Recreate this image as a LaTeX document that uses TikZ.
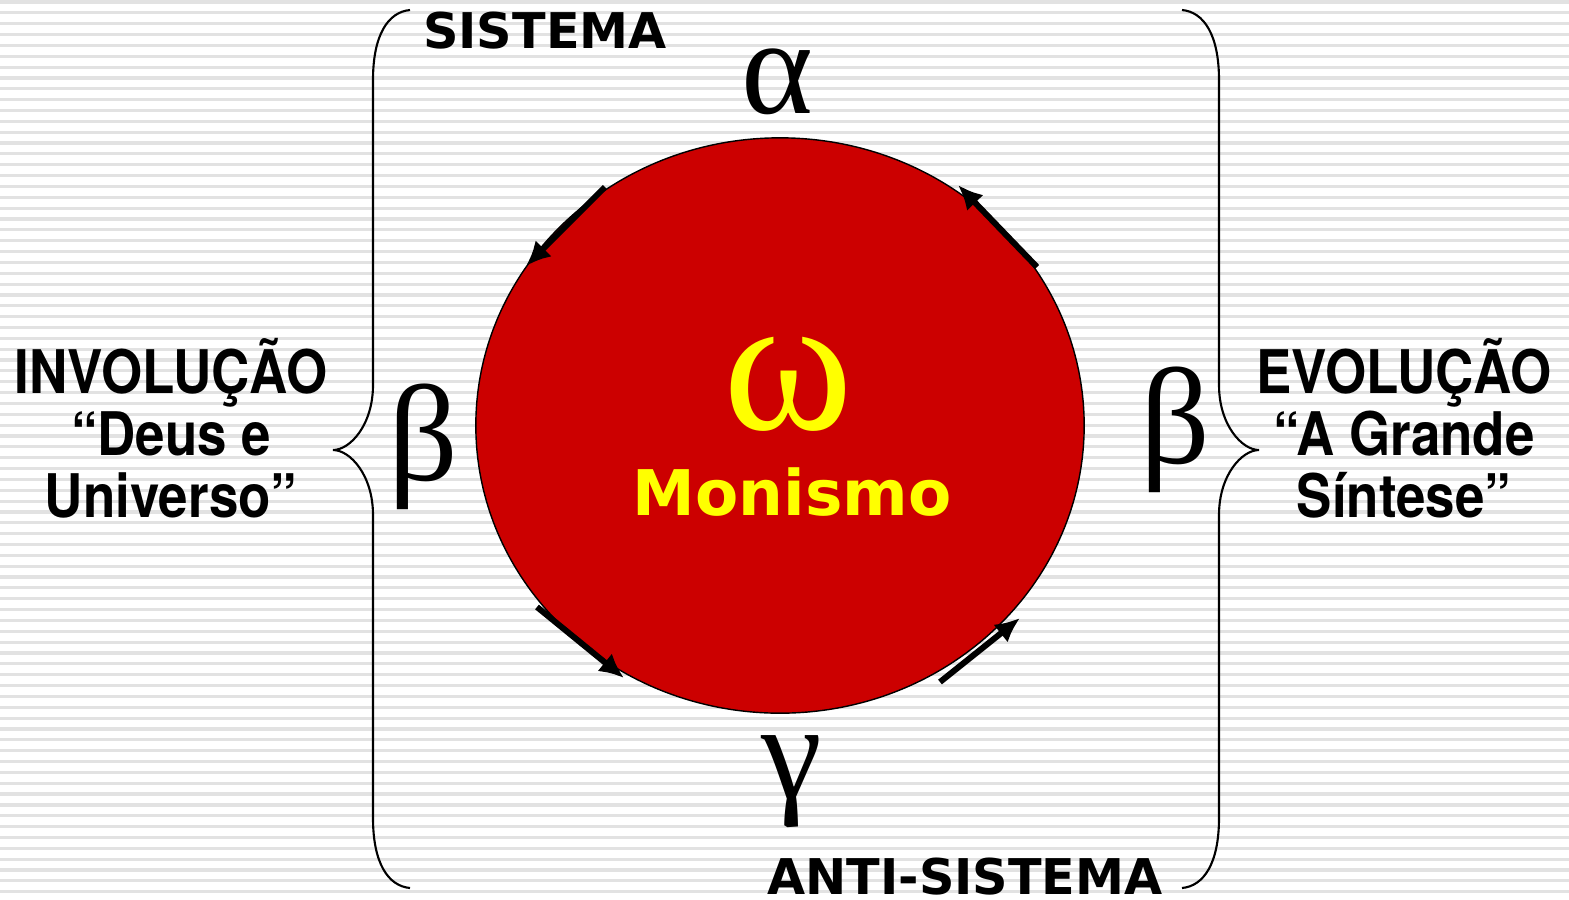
\documentclass[tikz,border=0pt]{standalone}
\usepackage{fontspec}
\setmainfont{TeX Gyre Heros}
\newfontfamily\arialfont[FakeStretch=0.88]{TeX Gyre Heros}
\newfontfamily\verdfont{DejaVu Sans}
\newfontfamily\greekfont{Liberation Serif}
\usetikzlibrary{arrows.meta,shapes.geometric}
\definecolor{monored}{HTML}{CC0000}
\definecolor{monoyellow}{HTML}{FFFF00}
\definecolor{stripegray}{HTML}{E2E2E2}

\begin{document}
\begin{tikzpicture}[x=0.01cm, y=-0.01cm,
  stripeline/.style={draw=stripegray, line width=0.9pt},
  bracestroke/.style={line width=0.6pt},
  flow/.style={-{Latex[length=7pt,width=6.5pt]}, line width=1.7pt},
  greek/.style={font=\greekfont\fontsize{39}{39}\selectfont, anchor=base, inner sep=0pt},
  tag/.style={font=\verdfont\bfseries\fontsize{14}{14}\selectfont, anchor=base, inner sep=0pt},
  side/.style={font=\arialfont\bfseries\fontsize{17.1}{17.7}\selectfont, align=center, inner sep=0pt}
]
  \useasboundingbox (0,0) rectangle (1569,899);
  \fill[white] (0,0) rectangle (1569,899);

  % striped background
  \foreach \k in {0,...,82}
    \draw[stripeline] (0,{2+10.85*\k}) -- (1569,{2+10.85*\k});

  % braces
  \draw[bracestroke] (410,10) .. controls (388,12) and (373,35) .. (373,80) -- (373,385)
    .. controls (373,425) and (350,450) .. (333,450)
    .. controls (350,450) and (373,475) .. (373,515) -- (373,818)
    .. controls (373,863) and (388,886) .. (410,888);
  \draw[bracestroke] (1182,10) .. controls (1204,12) and (1219,35) .. (1219,80) -- (1219,385)
    .. controls (1219,425) and (1242,450) .. (1259,450)
    .. controls (1242,450) and (1219,475) .. (1219,515) -- (1219,818)
    .. controls (1219,863) and (1204,886) .. (1182,888);

  % the circle
  \node[draw, ellipse, fill=monored, line width=0.4pt, minimum width=6.08cm, minimum height=5.75cm, inner sep=0pt] (mono) at (780,425.5) {};
  \node[greek, text=monoyellow, font=\greekfont\fontsize{56}{56}\selectfont] (omega) at (788,429) {ω};
  \node[tag, text=monoyellow, font=\verdfont\bfseries\fontsize{17.9}{17.9}\selectfont] (monismo) at (792,515) {Monismo};

  % arrows round the circle
  \coordinate (tl1) at (605,187);  \coordinate (tl2) at (526,266);
  \coordinate (tr1) at (1037,267); \coordinate (tr2) at (958,185);
  \coordinate (bl1) at (537,607);  \coordinate (bl2) at (624,678);
  \coordinate (br1) at (940,682);  \coordinate (br2) at (1020,618);
  \draw[flow] (tl1) -- (tl2);
  \draw[flow] (tr1) -- (tr2);
  \draw[flow] (bl1) -- (bl2);
  \draw[flow] (br1) -- (br2);

  % greek letters
  \node[greek] (alpha) at (777,113) {α};
  \node[greek] (betal) at (423,480) {β};
  \node[greek] (betar) at (1175,463) {β};
  \node[greek] (gamma) at (792,798) {γ};

  % labels
  \node[tag] (sistema) at (545,48) {SISTEMA};
  \node[tag] (anti) at (965,894) {ANTI-SISTEMA};
  \node[side] (invol) at (171,428) {INVOLUÇÃO\\“Deus e\\Universo”};
  \node[side] (evol) at (1404,428) {EVOLUÇÃO\\“A Grande\\Síntese”};
\end{tikzpicture}
\end{document}
